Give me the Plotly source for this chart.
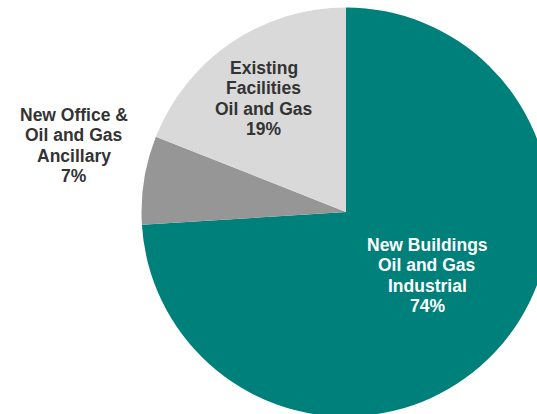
import plotly.graph_objects as go

# Share of project portfolio by facility type (percent)
categories = [
    "New Buildings<br>Oil and Gas<br>Industrial",
    "New Office &<br>Oil and Gas<br>Ancillary",
    "Existing<br>Facilities<br>Oil and Gas",
]
shares = [74, 7, 19]
slice_colors = ["#00807A", "#969696", "#D9D9D9"]
label_colors = ["#FFFFFF", "#333333", "#333333"]

# Canvas is a bit wider/taller than the window so the pie runs off the right and bottom edges
W, H = 552, 418
cx, cy, r = 346, 212, 204.5

# Label block centres in pixels (from top-left) and line pitch
label_pos = [(427, 275.5), (74, 145.5), (263.5, 98.5)]
line_pitch = 20.5

fig = go.Figure(
    go.Pie(
        labels=categories,
        values=shares,
        marker=dict(colors=slice_colors, line=dict(width=0)),
        sort=False,
        direction="clockwise",
        rotation=0,
        textinfo="none",
        hoverinfo="skip",
        showlegend=False,
        domain=dict(
            x=[(cx - r) / W, (cx + r) / W],
            y=[(H - cy - r) / H, (H - cy + r) / H],
        ),
    )
)

for cat, val, col, (px, py) in zip(categories, shares, label_colors, label_pos):
    lines = cat.split("<br>") + [f"{val}%"]
    n = len(lines)
    for i, line in enumerate(lines):
        ly = py + (i - (n - 1) / 2) * line_pitch
        fig.add_annotation(
            x=px / W,
            y=1 - ly / H,
            xref="paper",
            yref="paper",
            text=f"<b>{line}</b>",
            showarrow=False,
            align="center",
            xanchor="center",
            yanchor="middle",
            font=dict(family="Liberation Sans, Arial, sans-serif", size=17.5, color=col),
        )

fig.update_layout(
    width=W,
    height=H,
    margin=dict(l=0, r=0, t=0, b=0),
    paper_bgcolor="white",
    plot_bgcolor="white",
)

fig.write_html(
    "out.html",
    post_script="document.body.style.overflow='hidden';document.documentElement.style.overflow='hidden';",
)
